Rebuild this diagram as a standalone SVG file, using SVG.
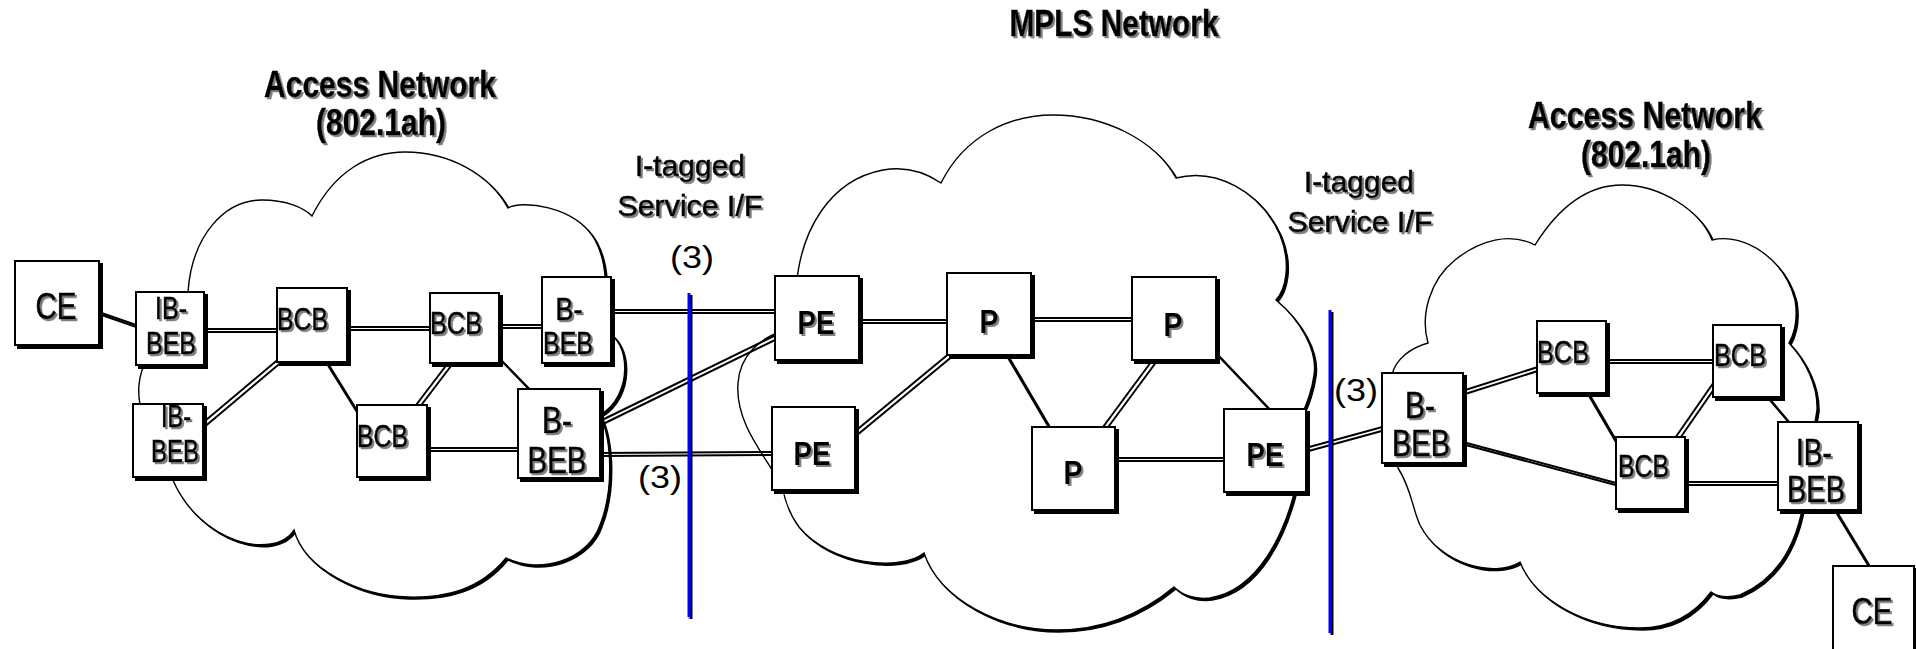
<svg xmlns="http://www.w3.org/2000/svg" width="1916" height="649" viewBox="0 0 1916 649">
  <style>
    .cloud { fill: #ffffff; stroke: #000000; stroke-width: 1.4; }
    .ln { stroke: #000000; stroke-width: 2; fill: none; }
    .box { fill: #ffffff; stroke: #000000; stroke-width: 2; }
    .ifline { stroke: #0000ff; stroke-width: 3; }
    text { font-family: "Liberation Sans", Arial, sans-serif; fill: #000000; }
    .nd { font-size: 31px; text-anchor: middle; stroke: #000000; stroke-width: 0.6; }
    .ndl { font-size: 36px; text-anchor: middle; stroke: #000000; stroke-width: 0.6; }
    .bcb { font-size: 31px; text-anchor: start; stroke: #000000; stroke-width: 0.6; }
    .pe { font-size: 34px; font-weight: bold; text-anchor: middle; }
    .ttl { font-size: 36px; font-weight: bold; text-anchor: middle; stroke: #000000; stroke-width: 0.4; }
    .sub { font-size: 30px; text-anchor: middle; stroke: #000000; stroke-width: 0.6; }
    .num { font-size: 32px; text-anchor: middle; }
  </style>
  <defs>
    <filter id="shBox" filterUnits="userSpaceOnUse" x="0" y="0" width="1916" height="649">
      <feOffset in="SourceAlpha" dx="3" dy="3" result="o"/>
      <feMerge><feMergeNode in="o"/><feMergeNode in="SourceGraphic"/></feMerge>
    </filter>
    <filter id="shCloud" filterUnits="userSpaceOnUse" x="0" y="0" width="1916" height="649">
      <feOffset in="SourceAlpha" dx="1.5" dy="1.5" result="o"/>
      <feMerge><feMergeNode in="o"/><feMergeNode in="SourceGraphic"/></feMerge>
    </filter>
    <filter id="shTxt" filterUnits="userSpaceOnUse" x="0" y="0" width="1916" height="649">
      <feOffset in="SourceAlpha" dx="2" dy="2" result="o"/>
      <feFlood flood-color="#808080"/>
      <feComposite in2="o" operator="in" result="s"/>
      <feMerge><feMergeNode in="s"/><feMergeNode in="SourceGraphic"/></feMerge>
    </filter>
    <filter id="shBlue" filterUnits="userSpaceOnUse" x="0" y="0" width="1916" height="649">
      <feOffset in="SourceAlpha" dx="1.5" dy="1.5" result="o"/>
      <feMerge><feMergeNode in="o"/><feMergeNode in="SourceGraphic"/></feMerge>
    </filter>
  </defs>

  <rect width="1916" height="649" fill="#ffffff"/>

  <!-- network clouds -->
  <g id="clouds" filter="url(#shCloud)">
    <path id="cloud-access-left" class="cloud" d="M 294,530 C 275,560 200,545 172,478 C 155,440 136,415 139,385 C 142,345 183,330 188,292 C 192,235 225,200 262,200 C 285,200 303,207 312,216 C 335,170 370,152 405,152 C 450,152 490,175 508,208 C 520,200 575,205 595,240 C 603,255 606,270 606,300 L 606,332 C 630,340 634,395 600,415 C 612,440 614,490 600,525 C 588,560 540,575 506,558 C 480,590 445,598 408,597 C 360,596 305,570 294,530 Z"/>
    <path id="cloud-mpls" class="cloud" d="M 782,485 C 760,450 735,420 738,383 C 740,355 760,338 785,330 L 796,290 C 800,230 830,180 883,170 C 905,166 925,172 941,183 C 965,135 1010,115 1053,115 C 1105,115 1155,140 1176,178 C 1215,168 1260,190 1280,235 C 1292,265 1285,290 1276,300 C 1300,320 1318,350 1314,375 C 1312,390 1308,400 1300,420 L 1295,490 C 1285,530 1260,590 1210,598 C 1195,600 1182,595 1174,587 C 1140,615 1100,630 1057,630 C 1000,630 940,600 924,553 C 900,572 830,565 799,527 C 790,515 785,503 782,485 Z"/>
    <path id="cloud-access-right" class="cloud" d="M 1395,440 L 1392,375 C 1395,360 1410,348 1428,343 C 1420,315 1430,280 1455,260 C 1480,240 1510,232 1535,245 C 1560,205 1590,185 1622,185 C 1660,185 1700,210 1712,240 C 1745,232 1785,260 1795,300 C 1798,318 1795,332 1789,343 C 1805,360 1818,385 1817,410 L 1812,440 L 1803,505 C 1795,550 1775,580 1740,595 C 1728,598 1718,597 1711,592 C 1690,620 1665,628 1640,628 C 1585,628 1535,600 1520,562 C 1495,578 1440,565 1420,525 C 1412,508 1412,490 1398,468 Z"/>
  </g>

  <!-- links between nodes -->
  <g id="connectors" filter="url(#shBox)">
    <line class="ln" x1="90" y1="309" x2="142" y2="327"/>
    <line class="ln" x1="200" y1="329" x2="281" y2="329"/>
    <line class="ln" x1="343" y1="327" x2="434" y2="327"/>
    <line class="ln" x1="495" y1="325" x2="546" y2="325"/>
    <line class="ln" x1="199" y1="426" x2="281" y2="357"/>
    <line class="ln" x1="324" y1="359" x2="360" y2="417"/>
    <line class="ln" x1="413" y1="409" x2="448" y2="363"/>
    <line class="ln" x1="497" y1="356" x2="533" y2="393"/>
    <line class="ln" x1="423" y1="448" x2="522" y2="448"/>
    <line class="ln" x1="607" y1="310" x2="779" y2="310"/>
    <line class="ln" x1="598" y1="422" x2="780" y2="333"/>
    <line class="ln" x1="596" y1="453" x2="776" y2="452"/>
    <line class="ln" x1="855" y1="320" x2="951" y2="320"/>
    <line class="ln" x1="1027" y1="318" x2="1136" y2="318"/>
    <line class="ln" x1="853" y1="433" x2="951" y2="352"/>
    <line class="ln" x1="1004" y1="351" x2="1051" y2="431"/>
    <line class="ln" x1="1100" y1="431" x2="1154" y2="358"/>
    <line class="ln" x1="1212" y1="349" x2="1273" y2="413"/>
    <line class="ln" x1="1111" y1="458" x2="1228" y2="458"/>
    <line class="ln" x1="1302" y1="449" x2="1386" y2="426"/>
    <line class="ln" x1="1459" y1="392" x2="1541" y2="366"/>
    <line class="ln" x1="1459" y1="441" x2="1620" y2="484"/>
    <line class="ln" x1="1602" y1="360" x2="1717" y2="360"/>
    <line class="ln" x1="1585" y1="389" x2="1620" y2="449"/>
    <line class="ln" x1="1673" y1="441" x2="1716" y2="379"/>
    <line class="ln" x1="1764" y1="393" x2="1792" y2="426"/>
    <line class="ln" x1="1681" y1="482" x2="1782" y2="482"/>
    <line class="ln" x1="1834" y1="509" x2="1871" y2="570"/>
  </g>

  <!-- service interface boundaries -->
  <g id="interfaces" filter="url(#shBlue)">
    <line class="ifline" x1="689" y1="293" x2="689" y2="617"/>
    <line class="ifline" x1="1330" y1="310" x2="1330" y2="633"/>
  </g>

  <!-- left access network -->
  <g id="ce-left">
    <rect class="box" x="15" y="261" width="84" height="84" filter="url(#shBox)"/>
    <text class="ndl" x="56" y="319" textLength="41" lengthAdjust="spacingAndGlyphs" filter="url(#shTxt)">CE</text>
  </g>
  <g id="ib-beb-left-1">
    <rect class="box" x="136" y="292" width="68" height="73" filter="url(#shBox)"/>
    <g filter="url(#shTxt)">
      <text class="nd" x="171" y="319" textLength="32" lengthAdjust="spacingAndGlyphs">IB-</text>
      <text class="nd" x="171" y="354" textLength="50" lengthAdjust="spacingAndGlyphs">BEB</text>
    </g>
  </g>
  <g id="ib-beb-left-2">
    <rect class="box" x="133" y="404" width="70" height="73" filter="url(#shBox)"/>
    <g filter="url(#shTxt)">
      <text class="nd" x="176" y="427" textLength="30" lengthAdjust="spacingAndGlyphs">IB-</text>
      <text class="nd" x="175" y="462" textLength="48" lengthAdjust="spacingAndGlyphs">BEB</text>
    </g>
  </g>
  <g id="bcb-left-1">
    <rect class="box" x="277" y="288" width="70" height="74" filter="url(#shBox)"/>
    <text class="bcb" x="277" y="330" textLength="51" lengthAdjust="spacingAndGlyphs" filter="url(#shTxt)">BCB</text>
  </g>
  <g id="bcb-left-2">
    <rect class="box" x="430" y="293" width="69" height="70" filter="url(#shBox)"/>
    <text class="bcb" x="430" y="334" textLength="52" lengthAdjust="spacingAndGlyphs" filter="url(#shTxt)">BCB</text>
  </g>
  <g id="bcb-left-3">
    <rect class="box" x="357" y="405" width="70" height="72" filter="url(#shBox)"/>
    <text class="bcb" x="357" y="447" textLength="51" lengthAdjust="spacingAndGlyphs" filter="url(#shTxt)">BCB</text>
  </g>
  <g id="b-beb-left-1">
    <rect class="box" x="542" y="277" width="69" height="86" filter="url(#shBox)"/>
    <g filter="url(#shTxt)">
      <text class="nd" x="569" y="320" textLength="27" lengthAdjust="spacingAndGlyphs">B-</text>
      <text class="nd" x="568" y="354" textLength="50" lengthAdjust="spacingAndGlyphs">BEB</text>
    </g>
  </g>
  <g id="b-beb-left-2">
    <rect class="box" x="518" y="389" width="82" height="89" filter="url(#shBox)"/>
    <g filter="url(#shTxt)">
      <text class="ndl" x="557" y="433" textLength="30" lengthAdjust="spacingAndGlyphs">B-</text>
      <text class="ndl" x="557" y="473" textLength="59" lengthAdjust="spacingAndGlyphs">BEB</text>
    </g>
  </g>

  <!-- MPLS core -->
  <g id="pe-1">
    <rect class="box" x="775" y="276" width="84" height="84" filter="url(#shBox)"/>
    <text class="pe" x="816" y="334" textLength="37" lengthAdjust="spacingAndGlyphs" filter="url(#shTxt)">PE</text>
  </g>
  <g id="p-1">
    <rect class="box" x="947" y="273" width="84" height="82" filter="url(#shBox)"/>
    <text class="pe" x="989" y="333" textLength="19" lengthAdjust="spacingAndGlyphs" filter="url(#shTxt)">P</text>
  </g>
  <g id="p-2">
    <rect class="box" x="1132" y="277" width="84" height="83" filter="url(#shBox)"/>
    <text class="pe" x="1173" y="336" textLength="19" lengthAdjust="spacingAndGlyphs" filter="url(#shTxt)">P</text>
  </g>
  <g id="pe-2">
    <rect class="box" x="772" y="407" width="83" height="83" filter="url(#shBox)"/>
    <text class="pe" x="812" y="465" textLength="37" lengthAdjust="spacingAndGlyphs" filter="url(#shTxt)">PE</text>
  </g>
  <g id="p-3">
    <rect class="box" x="1032" y="427" width="83" height="83" filter="url(#shBox)"/>
    <text class="pe" x="1073" y="484" textLength="19" lengthAdjust="spacingAndGlyphs" filter="url(#shTxt)">P</text>
  </g>
  <g id="pe-3">
    <rect class="box" x="1224" y="409" width="82" height="83" filter="url(#shBox)"/>
    <text class="pe" x="1265" y="466" textLength="37" lengthAdjust="spacingAndGlyphs" filter="url(#shTxt)">PE</text>
  </g>

  <!-- right access network -->
  <g id="b-beb-right">
    <rect class="box" x="1382" y="373" width="81" height="90" filter="url(#shBox)"/>
    <g filter="url(#shTxt)">
      <text class="ndl" x="1420" y="418" textLength="30" lengthAdjust="spacingAndGlyphs">B-</text>
      <text class="ndl" x="1421" y="456" textLength="58" lengthAdjust="spacingAndGlyphs">BEB</text>
    </g>
  </g>
  <g id="bcb-right-1">
    <rect class="box" x="1537" y="321" width="69" height="72" filter="url(#shBox)"/>
    <text class="bcb" x="1537" y="363" textLength="52" lengthAdjust="spacingAndGlyphs" filter="url(#shTxt)">BCB</text>
  </g>
  <g id="bcb-right-2">
    <rect class="box" x="1713" y="325" width="68" height="72" filter="url(#shBox)"/>
    <text class="bcb" x="1714" y="366" textLength="52" lengthAdjust="spacingAndGlyphs" filter="url(#shTxt)">BCB</text>
  </g>
  <g id="bcb-right-3">
    <rect class="box" x="1616" y="437" width="69" height="72" filter="url(#shBox)"/>
    <text class="bcb" x="1618" y="477" textLength="51" lengthAdjust="spacingAndGlyphs" filter="url(#shTxt)">BCB</text>
  </g>
  <g id="ib-beb-right">
    <rect class="box" x="1778" y="422" width="80" height="88" filter="url(#shBox)"/>
    <g filter="url(#shTxt)">
      <text class="ndl" x="1814" y="465" textLength="36" lengthAdjust="spacingAndGlyphs">IB-</text>
      <text class="ndl" x="1816" y="502" textLength="58" lengthAdjust="spacingAndGlyphs">BEB</text>
    </g>
  </g>
  <g id="ce-right">
    <rect class="box" x="1833" y="566" width="81" height="90" filter="url(#shBox)"/>
    <text class="ndl" x="1872" y="624" textLength="41" lengthAdjust="spacingAndGlyphs" filter="url(#shTxt)">CE</text>
  </g>

  <!-- titles and interface labels -->
  <g id="labels">
    <g filter="url(#shTxt)">
      <text class="ttl" x="380" y="97" textLength="232" lengthAdjust="spacingAndGlyphs">Access Network</text>
      <text class="ttl" x="381" y="135" textLength="130" lengthAdjust="spacingAndGlyphs">(802.1ah)</text>
      <text class="ttl" x="1114" y="36" textLength="209" lengthAdjust="spacingAndGlyphs">MPLS Network</text>
      <text class="ttl" x="1645" y="128" textLength="234" lengthAdjust="spacingAndGlyphs">Access Network</text>
      <text class="ttl" x="1646" y="167" textLength="130" lengthAdjust="spacingAndGlyphs">(802.1ah)</text>
      <text class="sub" x="690" y="176" textLength="110" lengthAdjust="spacingAndGlyphs">I-tagged</text>
      <text class="sub" x="690" y="216" textLength="145" lengthAdjust="spacingAndGlyphs">Service I/F</text>
      <text class="sub" x="1359" y="192" textLength="110" lengthAdjust="spacingAndGlyphs">I-tagged</text>
      <text class="sub" x="1360" y="232" textLength="145" lengthAdjust="spacingAndGlyphs">Service I/F</text>
    </g>
    <text class="num" x="692" y="268" textLength="44" lengthAdjust="spacingAndGlyphs">(3)</text>
    <text class="num" x="660" y="488" textLength="44" lengthAdjust="spacingAndGlyphs">(3)</text>
    <text class="num" x="1356" y="401" textLength="44" lengthAdjust="spacingAndGlyphs">(3)</text>
  </g>
</svg>
